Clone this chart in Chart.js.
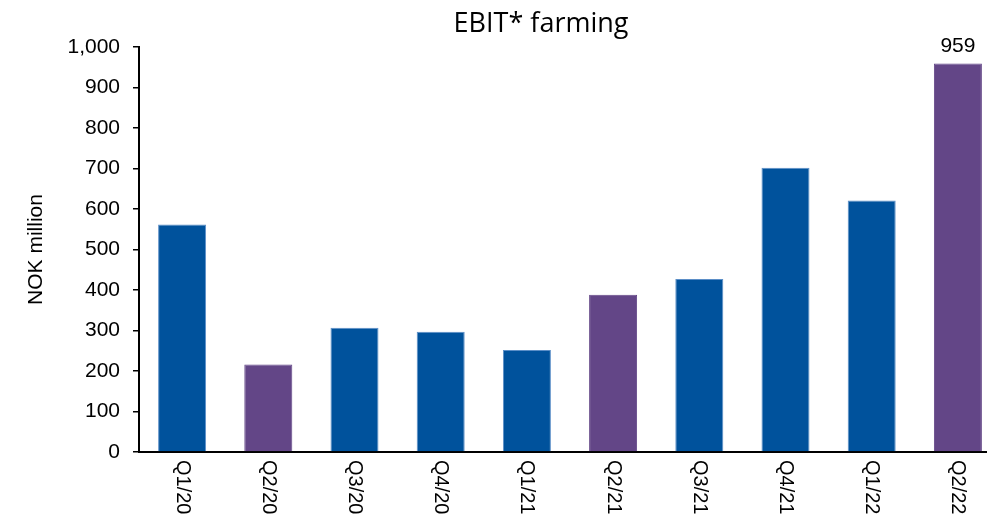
<!DOCTYPE html>
<html>
<head>
<meta charset="utf-8">
<script src="https://cdn.jsdelivr.net/npm/chart.js@4/dist/chart.umd.min.js"></script>
<style>
  html, body { margin: 0; padding: 0; background: #fff; overflow: hidden; }
  #wrap { position: relative; width: 1010px; height: 516px; }
</style>
</head>
<body>
<div id="wrap"><canvas id="c"></canvas></div>
<script>
// Quarterly EBIT for the farming segment, NOK million
const quarters = ['Q1/20', 'Q2/20', 'Q3/20', 'Q4/20', 'Q1/21', 'Q2/21', 'Q3/21', 'Q4/21', 'Q1/22', 'Q2/22'];
const ebit = [562, 216, 307, 297, 252, 388, 427, 702, 621, 959];
// Second quarters are highlighted
const highlighted = [false, true, false, false, false, true, false, false, false, true];
const yTicks = [0, 100, 200, 300, 400, 500, 600, 700, 800, 900, 1000];
const labelledIndex = 9;

const BLUE = '#00529c';
const BLUE_EDGE = '#5b8ec7';
const PURPLE = '#634687';
const FONT = "'Liberation Sans', Arial, sans-serif";

const overlay = {
  id: 'overlay',
  afterDraw(chart) {
    const ctx = chart.ctx;
    const x = chart.scales.x;
    const area = chart.chartArea;
    ctx.save();
    ctx.fillStyle = '#000';

    // Title
    ctx.font = "27px 'Open Sans', sans-serif";
    ctx.textAlign = 'center';
    ctx.textBaseline = 'middle';
    ctx.fillText('EBIT* farming', 541, 24);

    // Y-axis title
    ctx.save();
    ctx.font = '21px ' + FONT;
    ctx.translate(36, (area.top + area.bottom) / 2);
    ctx.rotate(-Math.PI / 2);
    ctx.textAlign = 'center';
    ctx.textBaseline = 'middle';
    ctx.fillText('NOK million', 0, 0);
    ctx.restore();

    // Category labels, reading top to bottom
    ctx.font = '20px ' + FONT;
    quarters.forEach((q, i) => {
      const px = x.getPixelForTick(i);
      ctx.save();
      ctx.translate(px, area.bottom + 8);
      ctx.rotate(Math.PI / 2);
      ctx.textAlign = 'left';
      ctx.textBaseline = 'middle';
      ctx.fillText(q, 0, 0);
      ctx.restore();
    });

    // Value label on the latest quarter
    const bar = chart.getDatasetMeta(0).data[labelledIndex];
    ctx.font = '21px ' + FONT;
    ctx.textAlign = 'center';
    ctx.textBaseline = 'bottom';
    ctx.fillText(String(ebit[labelledIndex]), bar.x, bar.y - 7);
    ctx.restore();
  }
};

new Chart(document.getElementById('c'), {
  type: 'bar',
  data: {
    labels: quarters,
    datasets: [{
      data: ebit,
      backgroundColor: highlighted.map(h => h ? PURPLE : BLUE),
      borderColor: highlighted.map(h => h ? PURPLE : BLUE_EDGE),
      borderWidth: 1,
      barPercentage: 0.557,
      categoryPercentage: 1.0
    }]
  },
  options: {
    responsive: true,
    maintainAspectRatio: false,
    animation: false,
    layout: { padding: { top: 47, right: 9, left: 0, bottom: 0 } },
    plugins: {
      legend: { display: false },
      title: { display: false },
      tooltip: { enabled: false }
    },
    scales: {
      x: {
        ticks: { display: false },
        grid: { display: false },
        border: { display: true, color: '#000', width: 2 },
        afterFit(scale) { scale.height = 64; }
      },
      y: {
        min: 0,
        max: 1000,
        afterBuildTicks(scale) { scale.ticks = yTicks.map(v => ({ value: v })); },
        ticks: {
          color: '#000',
          padding: 13,
          font: { family: FONT, size: 21 },
          callback: v => v.toLocaleString('en-US')
        },
        grid: {
          drawOnChartArea: false,
          drawTicks: true,
          tickLength: 6,
          color: '#000',
          lineWidth: 1.5
        },
        border: { display: true, color: '#000', width: 2 },
        afterFit(scale) { scale.width = 139; }
      }
    }
  },
  plugins: [overlay]
});
</script>
</body>
</html>
